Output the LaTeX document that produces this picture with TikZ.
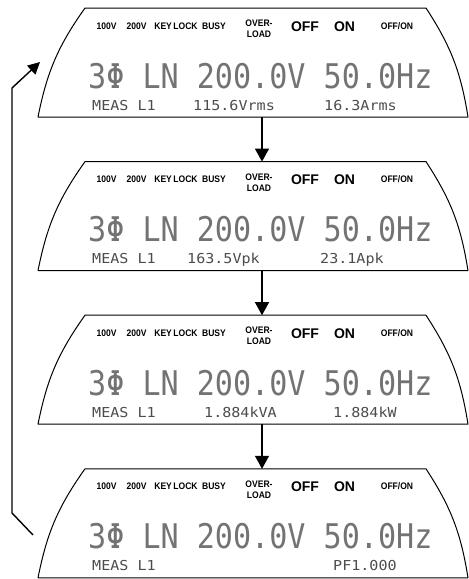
\documentclass[tikz,border=0pt]{standalone}
\usepackage{fontspec}
\setsansfont{Liberation Sans}
\newfontfamily\lampfont[FakeStretch=0.9]{Liberation Sans}
\newfontfamily\lcdbig[FakeStretch=0.885]{DejaVu Sans Mono}
\newfontfamily\lcdsmall[FakeStretch=1.1]{DejaVu Sans Mono}
\usetikzlibrary{arrows.meta}

\tikzset{
  lamp/.style={font=\lampfont\bfseries\fontsize{9.5}{10}\selectfont, inner sep=0pt, anchor=base},
  lampbig/.style={font=\sffamily\bfseries\fontsize{14}{15}\selectfont, inner sep=0pt, anchor=base},
  bigrow/.style={font=\lcdbig\fontsize{34}{36}\selectfont, text=black!55, inner sep=0pt, anchor=base west},
  readout/.style={font=\lcdsmall\fontsize{13.7}{15}\selectfont, text=black!70, inner sep=0pt, anchor=base west},
  flow/.style={line width=1.4pt, -{Triangle[length=13pt,width=14pt]}},
  % one display window: #1/#2 middle reading and its x, #3/#4 right reading and its x
  pics/lcd/.style n args={4}{code={
    \draw[line width=1pt, line join=round]
      (0,0) -- (341,0) to[bend left=12] (383,109) -- (-47,109) to[bend left=12] (0,0) -- cycle;
    \coordinate (-top) at (177,0);
    \coordinate (-bot) at (177,109);
    \node[lamp] (-v100) at (21.5,21) {100V};
    \node[lamp] (-v200) at (51.5,21) {200V};
    \node[lamp] (-key) at (91,21) {KEY\hspace{1.5pt}LOCK};
    \node[lamp] (-busy) at (129,21) {BUSY};
    \node[lamp] (-over) at (174,18.5) {OVER-};
    \node[lamp] (-load) at (174,29.5) {LOAD};
    \node[lampbig] (-off) at (220,23) {OFF};
    \node[lampbig] (-on) at (259.5,23) {ON};
    \node[lamp] (-offon) at (312,21) {OFF/ON};
    \node[bigrow] (-main) at (3,80) {3Φ LN 200.0V 50.0Hz};
    \node[readout] (-meas) at (7,102) {MEAS L1};
    \node[readout] (-rda) at (#2,102) {#1};
    \node[readout] (-rdb) at (#4,102) {#3};
  }}
}

\begin{document}
\begin{tikzpicture}[x=1pt, y=-1pt]
  \useasboundingbox (0,0) rectangle (469,579);
  % the four screens
  \pic (d1) at (85,8) {lcd={115.6Vrms}{108}{16.3Arms}{239}};
  \pic (d2) at (85,161.6) {lcd={163.5Vpk}{102}{23.1Apk}{235}};
  \pic (d3) at (85,315.2) {lcd={1.884kVA}{119}{1.884kW}{248}};
  \pic (d4) at (85,468.8) {lcd={}{119}{PF1.000}{248}};
  % next screen
  \foreach \a/\b in {d1/d2, d2/d3, d3/d4}
    \draw[flow] (\a-bot) -- (\b-top);
  % back to the first one
  \coordinate (backfrom) at (33,535);
  \coordinate (backlow) at (12,513);
  \coordinate (backhigh) at (12,88);
  \coordinate (backto) at (40,62);
  \draw[line width=1.4pt, line join=round, -{Triangle[length=12pt,width=12pt]}]
    (backfrom) -- (backlow) -- (backhigh) -- (backto);
\end{tikzpicture}
\end{document}
